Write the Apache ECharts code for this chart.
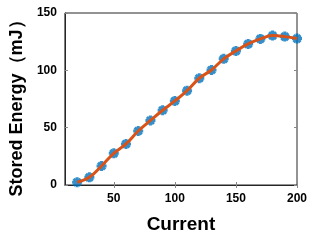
<!DOCTYPE html>
<html><head><meta charset="utf-8">
<script src="https://cdn.jsdelivr.net/npm/echarts@6/dist/echarts.min.js"></script>
<style>html,body{margin:0;padding:0;background:#fff}#c{width:320px;height:240px}</style>
</head><body><div id="c"></div>
<script>
var currents = [20,30,40,50,60,70,80,90,100,110,120,130,140,150,160,170,180,190,200];
var energy = [2.4,6.7,16.6,27.6,35.8,47.1,56.3,65.2,73.3,82.3,93.1,100.3,110.0,116.9,123.0,127.4,130.3,129.4,127.7];
var xTicks = [50,100,150,200];
var yTicks = [0,50,100,150];
var xTitle = 'Current';
var yTitle = 'Stored Energy（mJ）';

var pts = currents.map(function(c,i){return [c, energy[i]];});
var chart = echarts.init(document.getElementById('c'), null, {renderer:'canvas'});
var lblFont = {fontFamily:'Liberation Sans', fontWeight:'bold', fontSize:12, color:'#000'};
var tickStyle = {show:true, inside:true, length:3, lineStyle:{color:'#888', width:1}};
chart.setOption({
  animation:false,
  grid:{left:63, right:23, top:13, bottom:55, show:true, borderColor:'#262626', borderWidth:1, backgroundColor:'#fff'},
  xAxis:[{
    type:'value', min:10, max:200,
    axisLine:{show:true, lineStyle:{color:'#262626', width:1}},
    axisTick:Object.assign({customValues:xTicks}, tickStyle),
    axisLabel:Object.assign({customValues:xTicks, margin:8}, lblFont),
    splitLine:{show:false},
    name:xTitle, nameLocation:'middle', nameGap:30,
    nameTextStyle:{fontFamily:'Liberation Sans', fontWeight:'bold', fontSize:19, color:'#000'}
  },{
    type:'value', min:10, max:200, position:'top',
    axisLine:{show:false},
    axisTick:Object.assign({customValues:xTicks}, tickStyle),
    axisLabel:{show:false}, splitLine:{show:false}
  }],
  yAxis:[{
    type:'value', min:0, max:150, interval:50,
    axisLine:{show:true, lineStyle:{color:'#262626', width:1}},
    axisTick:tickStyle,
    axisLabel:Object.assign({margin:8}, lblFont),
    splitLine:{show:false},
    name:yTitle, nameLocation:'middle', nameGap:36,
    nameTextStyle:{fontFamily:'Liberation Sans', fontWeight:'bold', fontSize:18, color:'#000', padding:[0,0,0,-10]}
  },{
    type:'value', min:0, max:150, interval:50, position:'right',
    axisLine:{show:false},
    axisTick:tickStyle,
    axisLabel:{show:false}, splitLine:{show:false}
  }],
  series:[{
    type:'scatter', data:pts, z:2,
    symbol:'path://M0,-10L0,10M-10,0L10,0M-7,-7L7,7M-7,7L7,-7',
    symbolSize:10,
    itemStyle:{color:'#0072BD', borderColor:'#0072BD', borderWidth:3}
  },{
    type:'line', data:pts, smooth:0.4, z:3, showSymbol:false, symbol:'none',
    lineStyle:{color:'#D95319', width:3}
  }]
});
</script></body></html>
